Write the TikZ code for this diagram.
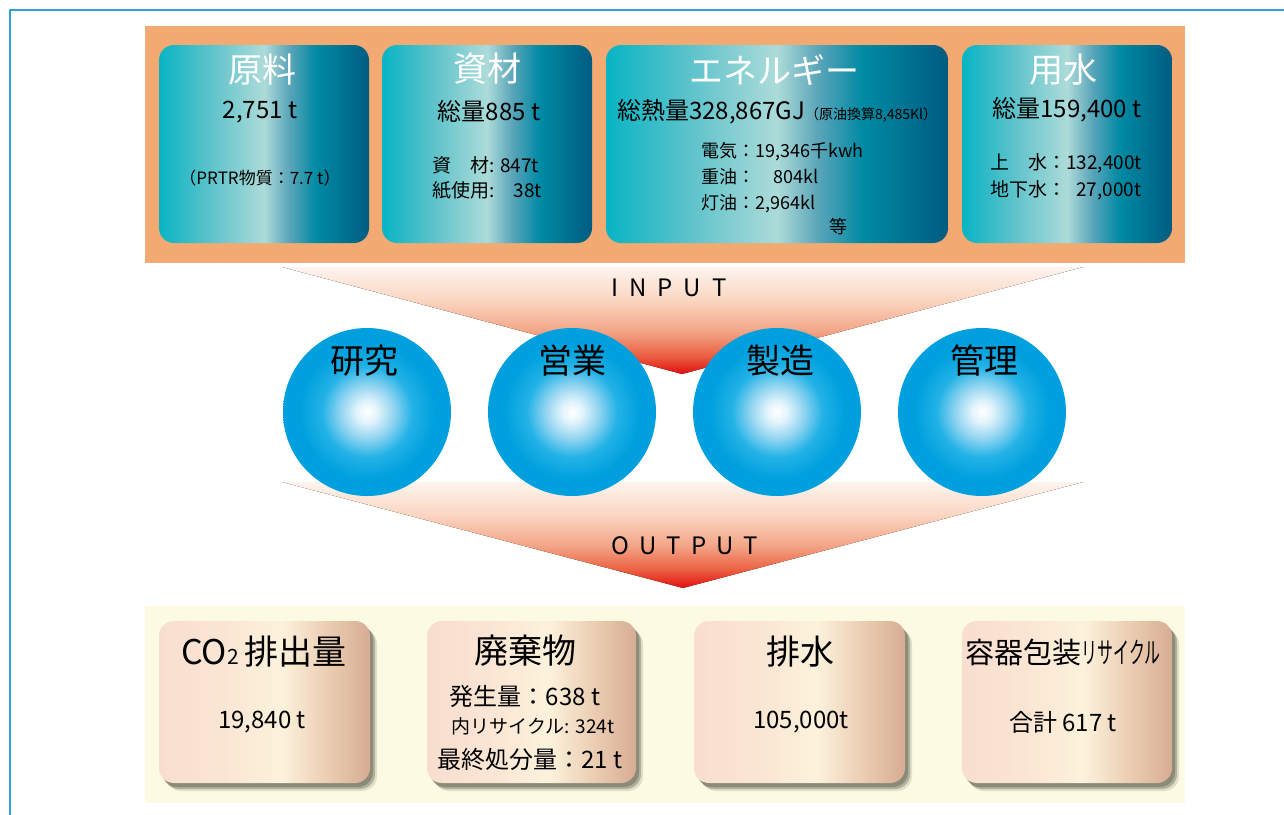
\documentclass[tikz,border=0pt]{standalone}
\usepackage{fontspec}
\setmainfont{Noto Sans CJK JP}
\usepackage{graphicx}
\usetikzlibrary{shadows}
\definecolor{frameblue}{RGB}{45,165,205}
\definecolor{orangebg}{RGB}{242,170,114}
\definecolor{yellowbg}{RGB}{252,250,226}
\definecolor{tA}{RGB}{8,180,196}
\definecolor{tB}{RGB}{95,195,203}
\definecolor{tC}{RGB}{172,219,217}
\definecolor{tD}{RGB}{90,165,185}
\definecolor{tE}{RGB}{0,138,164}
\definecolor{tF}{RGB}{0,92,128}
\definecolor{pA}{RGB}{249,222,208}
\definecolor{pB}{RGB}{250,229,211}
\definecolor{pC}{RGB}{252,242,220}
\definecolor{pD}{RGB}{235,205,178}
\definecolor{pE}{RGB}{214,172,148}
\definecolor{bA}{RGB}{228,244,252}
\definecolor{bB}{RGB}{145,212,240}
\definecolor{bC}{RGB}{35,178,230}
\definecolor{bD}{RGB}{0,160,222}
\definecolor{fA}{RGB}{254,244,238}
\definecolor{fB}{RGB}{250,215,195}
\definecolor{fC}{RGB}{243,165,135}
\definecolor{fD}{RGB}{235,95,65}
\definecolor{fE}{RGB}{225,15,15}
\definecolor{shadowc}{RGB}{70,70,55}
\pgfdeclarehorizontalshading{tealsh}{100bp}{color(0bp)=(tA); color(25bp)=(tA); color(37.5bp)=(tB); color(50bp)=(tC); color(56bp)=(tD); color(62.5bp)=(tE); color(75bp)=(tF); color(100bp)=(tF)}
\pgfdeclarehorizontalshading{peachsh}{100bp}{color(0bp)=(pA); color(25bp)=(pA); color(40bp)=(pB); color(54bp)=(pC); color(65bp)=(pD); color(75bp)=(pE); color(100bp)=(pE)}
\pgfdeclareradialshading{ballsh}{\pgfpoint{0bp}{0bp}}{color(0bp)=(white); color(3bp)=(bA); color(8bp)=(bB); color(13.5bp)=(bC); color(20bp)=(bD); color(25bp)=(bD); color(50bp)=(bD)}
\pgfdeclareverticalshading{funsh}{100bp}{color(0bp)=(fE); color(25bp)=(fE); color(33.5bp)=(fD); color(45bp)=(fC); color(60bp)=(fB); color(75bp)=(fA); color(100bp)=(fA)}
\begin{document}
\begin{tikzpicture}[x=1pt,y=-1pt,
  panel/.style={inner sep=0pt, outer sep=0pt},
  tealbox/.style={rounded corners=15pt, shade, shading=tealsh, inner sep=0pt, minimum height=198pt},
  peachbox/.style={rounded corners=15pt, inner sep=0pt, minimum height=162pt,
     drop shadow={shadow xshift=7pt, shadow yshift=-8pt, fill=shadowc, opacity=0.15},
     drop shadow={shadow xshift=5pt, shadow yshift=-6pt, fill=shadowc, opacity=0.3},
     drop shadow={shadow xshift=3pt, shadow yshift=-4pt, fill=shadowc, opacity=0.35},
     shade, shading=peachsh},
  ball/.style={circle, shade, shading=ballsh, minimum size=168pt, inner sep=0pt},
  ttl/.style={font=\fontsize{34}{36}\selectfont, inner sep=0pt},
  wttl/.style={ttl, text=white},
  big/.style={font=\fontsize{24}{28}\selectfont, inner sep=0pt},
  mid/.style={font=\fontsize{19}{22}\selectfont, inner sep=0pt},
  sml/.style={font=\fontsize{18}{21}\selectfont, inner sep=0pt},
  flow/.style={font=\fontsize{24}{28}\selectfont, inner sep=0pt}
]
\useasboundingbox (0,0) rectangle (1284,814);
\fill[white] (0,0) rectangle (1284,814);
\draw[frameblue, line width=2pt] (10,815) -- (10,10) -- (1285,10);

% panels
\node[panel, fill=orangebg, minimum width=1040pt, minimum height=237pt] (inpanel) at (665,144.5) {};
\node[panel, fill=yellowbg, minimum width=1040pt, minimum height=197pt] (outpanel) at (665,704.5) {};

% input boxes
\node[tealbox, minimum width=210pt] (b1) at (264,144) {};
\node[tealbox, minimum width=210pt] (b2) at (487,144) {};
\node[tealbox, minimum width=342pt] (b3) at (777,144) {};
\node[tealbox, minimum width=210pt] (b4) at (1067,144) {};

\node[wttl] (b1t) at (262,70) {原料};
\node[big] (b1a) at (260,112) {2,751 t};
\node[font=\fontsize{17}{20}\selectfont, inner sep=0pt] (b1b) at (260,178) {（PRTR物質：7.7 t）};

\node[wttl] (b2t) at (487,69) {資材};
\node[big] (b2a) at (489,111) {総量885 t};
\node[mid, anchor=west] (b2b) at (432,165) {資　材: 847t};
\node[mid, anchor=west] (b2c) at (432,190) {紙使用:　38t};

\node[wttl] (b3t) at (774,70) {エネルギー};
\node[anchor=west, inner sep=0pt] (b3a) at (617,112) {{\fontsize{24}{28}\selectfont 総熱量328,867GJ}{\fontsize{14}{16}\selectfont （原油換算8,485Kl）}};
\node[sml, anchor=west] (b3b) at (701,152) {電気：19,346千kwh};
\node[sml, anchor=west] (b3c) at (701,177) {重油：　804kl};
\node[sml, anchor=west] (b3d) at (701,204) {灯油：2,964kl};
\node[sml] (b3e) at (838,227) {等};

\node[wttl] (b4t) at (1063,70) {用水};
\node[big] (b4a) at (1067,110) {総量159,400 t};
\node[mid, anchor=west] (b4b) at (990,163) {上　水：132,400t};
\node[mid, anchor=west] (b4c) at (990,190) {地下水：\hspace{10pt}27,000t};

% funnels
\fill[shade, shading=funsh] (282,267) -- (1083,267) -- (682,374) -- cycle;
\fill[shade, shading=funsh] (282,482) -- (1083,482) -- (683,588) -- cycle;
\node[flow] (inlbl) at (669,288) {I\hspace{11pt}N\hspace{11pt}P\hspace{11pt}U\hspace{11pt}T};
\node[flow] (outlbl) at (685,546) {O\hspace{10pt}U\hspace{10pt}T\hspace{10pt}P\hspace{10pt}U\hspace{10pt}T};

% balls
\node[ball] (k1) at (367,412) {};
\node[ball] (k2) at (572,412) {};
\node[ball] (k3) at (777,412) {};
\node[ball] (k4) at (982,412) {};
\node[ttl] (k1t) at (364,361) {研究};
\node[ttl] (k2t) at (572,361) {営業};
\node[ttl] (k3t) at (780,361) {製造};
\node[ttl] (k4t) at (984,361) {管理};

% output boxes
\node[peachbox, minimum width=211pt] (c1) at (264.5,702) {};
\node[peachbox, minimum width=209pt] (c2) at (531.5,702) {};
\node[peachbox, minimum width=211pt] (c3) at (799.5,702) {};
\node[peachbox, minimum width=210pt] (c4) at (1067,702) {};

\node[ttl] (c1t) at (264,652) {CO{\fontsize{21}{22}\selectfont 2}\hspace{6pt}排出量};
\node[big] (c1a) at (262,722) {19,840 t};

\node[ttl] (c2t) at (525,651) {廃棄物};
\node[big] (c2a) at (525,696) {発生量：638 t};
\node[mid] (c2b) at (533,726) {内リサイクル: 324t};
\node[big] (c2c) at (530,759) {最終処分量：21 t};

\node[ttl] (c3t) at (800,652) {排水};
\node[big] (c3a) at (801,722) {105,000t};

\node[font=\fontsize{29}{32}\selectfont, inner sep=0pt] (c4t) at (1063,652) {容器包装\scalebox{0.55}[1]{リサイクル}};
\node[big] (c4a) at (1063,722) {合計 617 t};
\end{tikzpicture}
\end{document}
